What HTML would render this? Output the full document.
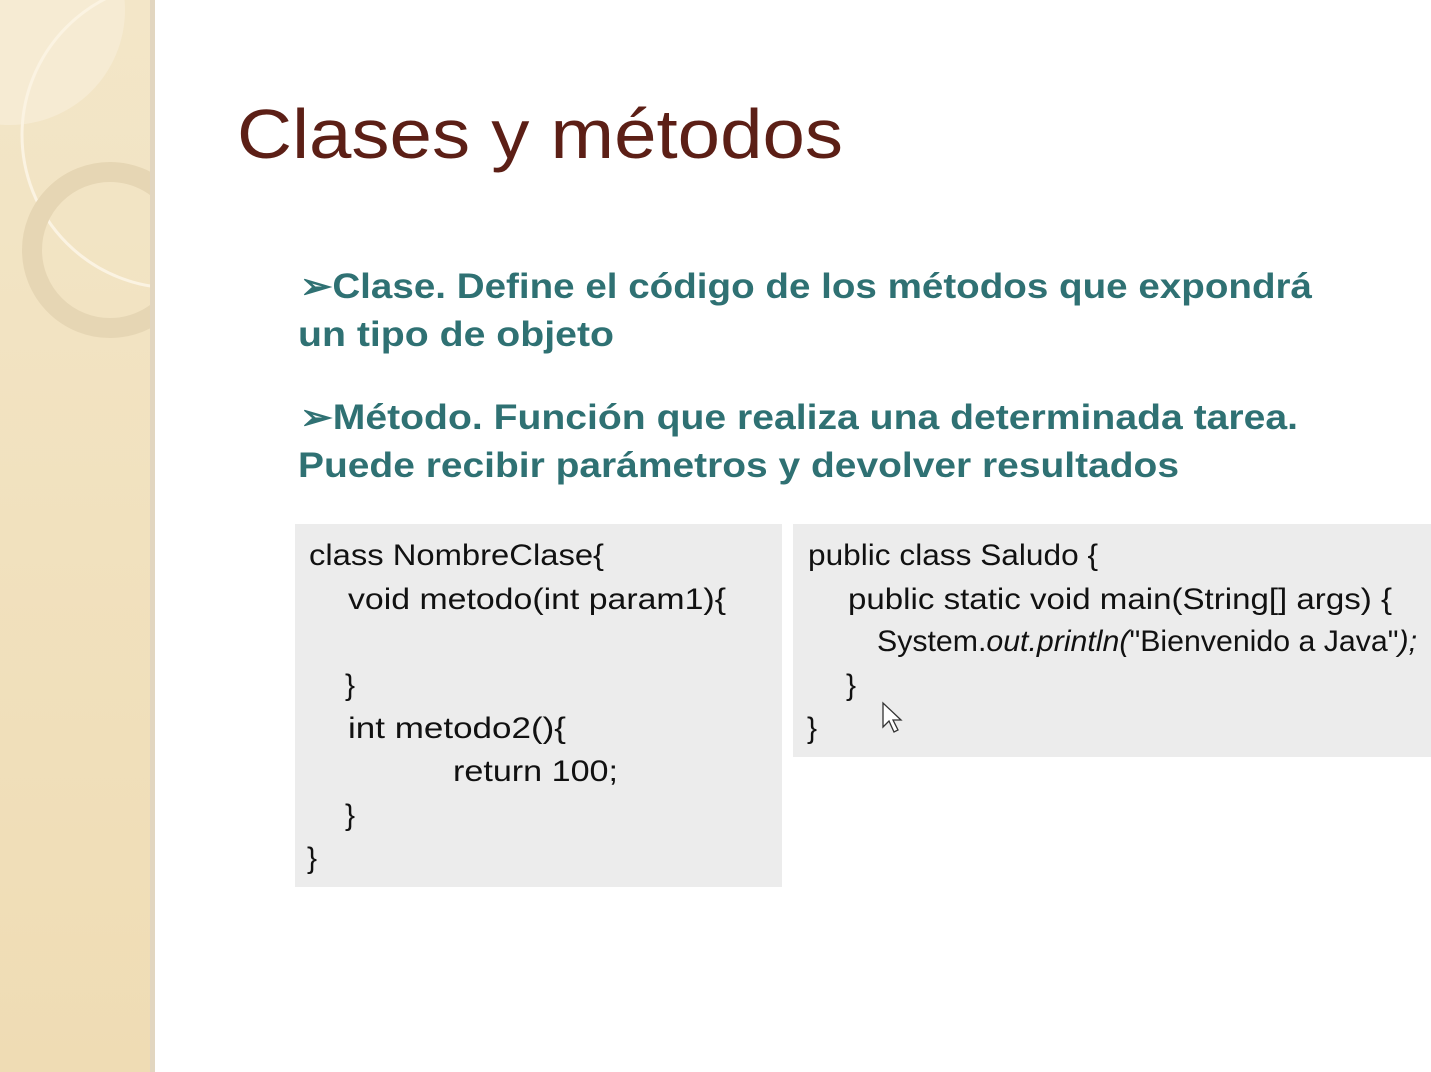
<!DOCTYPE html><html><head><meta charset="utf-8"><style>
html,body{margin:0;padding:0;width:1431px;height:1072px;overflow:hidden;background:#fff}
</style></head><body>
<svg width="1431" height="1072" xmlns="http://www.w3.org/2000/svg" style="position:absolute;left:0;top:0">
<defs><linearGradient id="sb" x1="0" y1="0" x2="0" y2="1"><stop offset="0" stop-color="#f3e6c8"/><stop offset="1" stop-color="#efdcb4"/></linearGradient>
<clipPath id="cp"><rect x="0" y="0" width="151" height="1072"/></clipPath></defs>
<rect x="0" y="0" width="153" height="1072" fill="url(#sb)"/>
<g clip-path="url(#cp)">
<circle cx="10" cy="10" r="115" fill="#f6ecd6" opacity="0.8"/>
<circle cx="175" cy="135" r="153" fill="none" stroke="#fbf3e2" stroke-width="3"/>
<circle cx="110" cy="250" r="78" fill="none" stroke="#e6d6b4" stroke-width="20"/>
</g>
<rect x="150" y="0" width="5" height="1072" fill="#e2d6c0"/>
<g font-family="Liberation Sans, sans-serif">
<text x="237" y="158" font-size="70" fill="#5c1f16" textLength="606" lengthAdjust="spacingAndGlyphs">Clases y métodos</text>
<g font-weight="bold" font-size="35" fill="#2f7173">
<text x="300" y="298" textLength="1012" lengthAdjust="spacingAndGlyphs">➢Clase. Define el código de los métodos que expondrá</text>
<text x="298" y="346" textLength="316" lengthAdjust="spacingAndGlyphs">un tipo de objeto</text>
<text x="300" y="429" textLength="998" lengthAdjust="spacingAndGlyphs">➢Método. Función que realiza una determinada tarea.</text>
<text x="298" y="477" textLength="881" lengthAdjust="spacingAndGlyphs">Puede recibir parámetros y devolver resultados</text>
</g>
<rect x="295" y="524" width="487" height="363" fill="#ececec"/>
<rect x="793" y="524" width="638" height="233" fill="#ececec"/>
<g font-size="30" fill="#111">
<text x="309" y="565" textLength="295" lengthAdjust="spacingAndGlyphs">class NombreClase{</text>
<text x="348" y="609" textLength="378" lengthAdjust="spacingAndGlyphs">void metodo(int param1){</text>
<text x="345" y="695">}</text>
<text x="348" y="738" textLength="218" lengthAdjust="spacingAndGlyphs">int metodo2(){</text>
<text x="453" y="781" textLength="165" lengthAdjust="spacingAndGlyphs">return 100;</text>
<text x="345" y="825">}</text>
<text x="307" y="868">}</text>
<text x="808" y="565" textLength="290" lengthAdjust="spacingAndGlyphs">public class Saludo {</text>
<text x="848" y="609" textLength="544" lengthAdjust="spacingAndGlyphs">public static void main(String[] args) {</text>
<text x="877" y="651" textLength="540" lengthAdjust="spacingAndGlyphs">System.<tspan font-style="italic">out.println(</tspan>"Bienvenido a Java"<tspan font-style="italic">);</tspan></text>
<text x="846" y="695">}</text>
<text x="807" y="738">}</text>
</g>
</g>
<path d="M883 703 L883 727 L889 721 L894 732 L898 730 L893 720 L901 720 Z" fill="#fff" stroke="#333" stroke-width="1.3"/>
</svg>
</body></html>
